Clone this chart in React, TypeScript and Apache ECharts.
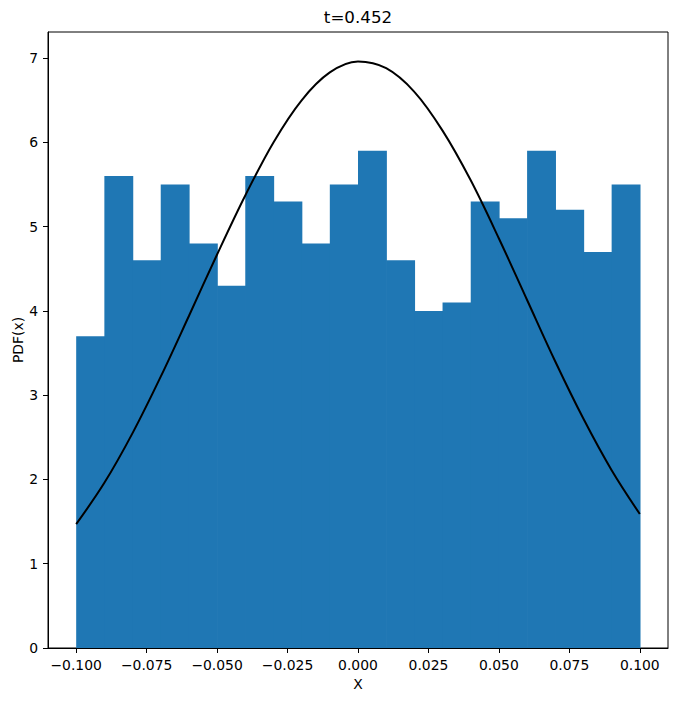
import React, { useEffect, useRef } from 'react';
import * as echarts from 'echarts';

// histogram bins: 20 bins of width 0.01 between -0.1 and 0.1
const binEdges = [
  -0.1, -0.09, -0.08, -0.07, -0.06, -0.05, -0.04, -0.03, -0.02, -0.01, 0,
  0.01, 0.02, 0.03, 0.04, 0.05, 0.06, 0.07, 0.08, 0.09, 0.1,
];
const binDensity = [
  3.7, 5.6, 4.6, 5.5, 4.8, 4.3, 5.6, 5.3, 4.8, 5.5,
  5.9, 4.6, 4.0, 4.1, 5.3, 5.1, 5.9, 5.2, 4.7, 5.5,
];

// PDF curve
const curveX = [
  -0.1, -0.09, -0.08, -0.07, -0.06, -0.05, -0.04, -0.03, -0.02, -0.01, 0,
  0.01, 0.02, 0.03, 0.04, 0.05, 0.06, 0.07, 0.08, 0.09, 0.1,
];
const curveY = [
  1.47, 1.96, 2.55, 3.22, 3.94, 4.67, 5.37, 6.0, 6.5, 6.83, 6.96,
  6.88, 6.6, 6.14, 5.55, 4.86, 4.13, 3.4, 2.72, 2.11, 1.59,
];

const xTicks = [-0.1, -0.075, -0.05, -0.025, 0, 0.025, 0.05, 0.075, 0.1];
const xTickLabels = ['−0.100', '−0.075', '−0.050', '−0.025', '0.000', '0.025', '0.050', '0.075', '0.100'];
const yTicks = [0, 1, 2, 3, 4, 5, 6, 7];

const FONT = '"DejaVu Sans", sans-serif';

const App: React.FC = () => {
  const chartRef = useRef<HTMLDivElement>(null);

  useEffect(() => {
    if (!chartRef.current) return;
    const chart = echarts.init(chartRef.current, undefined, { renderer: 'svg' });

    const bars = binDensity.map((h, i) => [binEdges[i], binEdges[i + 1], h]);
    const line = curveX.map((x, i) => [x, curveY[i]]);

    chart.setOption({
      animation: false,
      textStyle: { fontFamily: FONT },
      grid: {
        left: 48,
        right: 10,
        top: 32,
        bottom: 53,
        show: true,
        borderColor: '#000',
        borderWidth: 1,
        outerBoundsMode: 'none',
      },
      graphic: [
        {
          type: 'text',
          x: 358,
          y: 17,
          style: {
            text: 't=0.452',
            fontSize: 16.7,
            fontFamily: FONT,
            fill: '#000',
            textAlign: 'center',
            textVerticalAlign: 'middle',
          },
        },
        {
          type: 'text',
          x: 18,
          y: 340,
          rotation: Math.PI / 2,
          style: {
            text: 'PDF(x)',
            fontSize: 13.9,
            fontFamily: FONT,
            fill: '#000',
            textAlign: 'center',
            textVerticalAlign: 'middle',
          },
        },
      ],
      xAxis: {
        type: 'value',
        min: -0.11,
        max: 0.11,
        name: 'X',
        nameLocation: 'middle',
        nameGap: 29,
        nameTextStyle: { fontSize: 13.9, color: '#000', fontFamily: FONT },
        axisLine: { show: true, onZero: false, lineStyle: { color: '#000', width: 1 } },
        axisTick: {
          show: true,
          inside: false,
          length: 5,
          customValues: xTicks,
          lineStyle: { color: '#000', width: 1 },
        },
        axisLabel: {
          margin: 10,
          fontSize: 13.9,
          color: '#000',
          fontFamily: FONT,
          customValues: xTicks,
          formatter: (v: number) => {
            const i = xTicks.findIndex((t) => Math.abs(t - v) < 1e-9);
            return i >= 0 ? xTickLabels[i] : '';
          },
        },
        splitLine: { show: false },
      },
      yAxis: {
        type: 'value',
        min: 0,
        max: 7.31,
        axisLine: { show: true, onZero: false, lineStyle: { color: '#000', width: 1 } },
        axisTick: {
          show: true,
          inside: false,
          length: 5,
          customValues: yTicks,
          lineStyle: { color: '#000', width: 1 },
        },
        axisLabel: {
          margin: 10,
          fontSize: 13.9,
          color: '#000',
          fontFamily: FONT,
          customValues: yTicks,
          formatter: (v: number) => String(v),
        },
        splitLine: { show: false },
      },
      series: [
        {
          type: 'custom',
          data: bars,
          encode: { x: [0, 1], y: 2 },
          renderItem: (_params: any, api: any) => {
            const p0 = api.coord([api.value(0), api.value(2)]);
            const p1 = api.coord([api.value(1), 0]);
            return {
              type: 'rect',
              shape: { x: p0[0], y: p0[1], width: p1[0] - p0[0] + 0.7, height: p1[1] - p0[1] },
              style: { fill: '#1f77b4' },
            };
          },
          z: 1,
        },
        {
          type: 'line',
          data: line,
          smooth: 0.35,
          showSymbol: false,
          symbol: 'none',
          lineStyle: { color: '#000', width: 2 },
          z: 3,
        },
      ],
    });

    return () => chart.dispose();
  }, []);

  return (
    <div
      ref={chartRef}
      style={{ position: 'absolute', left: 0, top: 0, width: 678, height: 701, background: '#fff' }}
    />
  );
};

export default App;
